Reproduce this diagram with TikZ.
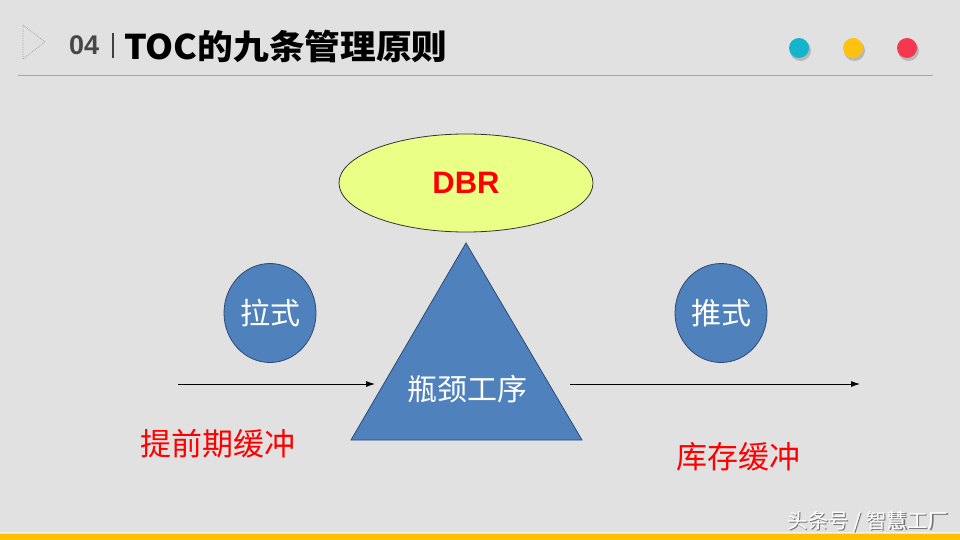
\documentclass[tikz,border=0pt]{standalone}
\usepackage{fontspec}
\setmainfont{Liberation Sans}
\newfontfamily\cjk{Noto Sans CJK SC}
\usetikzlibrary{arrows.meta}
\definecolor{bgc}{HTML}{E1E1E1}
\definecolor{blueshape}{HTML}{4F81BD}
\definecolor{blueedge}{HTML}{2A4A78}
\definecolor{dbrfill}{HTML}{E9FF85}
\definecolor{dotcyan}{HTML}{14B4CC}
\definecolor{dotyellow}{HTML}{FFC20E}
\definecolor{dotred}{HTML}{F5384F}
\definecolor{barline}{HTML}{A6A6A6}
\definecolor{footbar}{HTML}{FFC000}
\tikzset{
  bluecircle/.style={ellipse, fill=blueshape, draw=blueedge, line width=0.8pt, text=white, font=\cjk\fontsize{30}{30}\selectfont, minimum width=92pt, minimum height=99pt, inner sep=0pt},
  redlabel/.style={text=red, font=\cjk\fontsize{31}{31}\selectfont, inner sep=0pt},
  flowarrow/.style={-{Latex[length=9pt,width=6pt]}, line width=0.8pt, draw=black},
  dotshadow/.style={fill=black, opacity=0.18},
}
\usetikzlibrary{shapes.geometric}
\begin{document}
\begin{tikzpicture}[x=1pt,y=-1pt]
\useasboundingbox (0,0) rectangle (960,540);
\fill[bgc] (0,0) rectangle (960,540);
% header
\draw[gray!70, line width=0.8pt, densely dotted] (23,25) -- (45,42) -- (23,59) -- cycle;
\node[anchor=west, inner sep=0pt, text=black!72, font=\bfseries\fontsize{27}{27}\selectfont] (num) at (69,45) {04};
\draw[black!75, line width=1.2pt] (113,33) -- (113,58);
\node[anchor=west, inner sep=0pt, xscale=1.05, font=\cjk\bfseries\fontsize{34}{34}\selectfont] (title) at (124,46) {TOC的九条管理原则};
\draw[barline, line width=1pt] (18,75.5) -- (933,75.5);
% dots
\foreach \n/\x/\c in {dc/799/dotcyan, dy/853/dotyellow, dr/907/dotred}{
  \fill[dotshadow] (\x+1.5,50.5) circle (10.5);
  \node[circle, fill=\c, minimum size=20pt, inner sep=0pt] (\n) at (\x,48) {};
}
% footer
\fill[footbar] (0,534) rectangle (960,540);
\draw[white!90!gray, line width=1pt] (0,532.5) -- (960,532.5);
\node[anchor=east, inner sep=0pt, text=black!55, font=\cjk\fontsize{20.5}{20.5}\selectfont] at (949.7,522.7) {头条号 / 智慧工厂};
\node[anchor=east, inner sep=0pt, text=white, font=\cjk\fontsize{20.5}{20.5}\selectfont] (wm) at (948.5,521.5) {头条号 / 智慧工厂};
% DBR ellipse
\node[ellipse, fill=dbrfill, draw=black!80, line width=0.8pt, minimum width=254pt, minimum height=98pt, inner sep=0pt, text=red, font=\bfseries\fontsize{31}{31}\selectfont] (dbr) at (466,183) {DBR};
% triangle
\coordinate (tA) at (466,243);
\coordinate (tL) at (351,440);
\coordinate (tR) at (582,440);
\draw[fill=blueshape, draw=blueedge, line width=0.8pt] (tA) -- (tR) -- (tL) -- cycle;
\node[text=white, font=\cjk\fontsize{30}{30}\selectfont, inner sep=0pt] (neck) at (467,389) {瓶颈工序};
% circles
\node[bluecircle] (pull) at (270,313) {拉式};
\node[bluecircle] (push) at (721,313) {推式};
% arrows
\coordinate (a1) at (178,384);
\coordinate (a1e) at (375,384);
\coordinate (a2) at (570,384);
\coordinate (a2e) at (860,384);
\draw[flowarrow] (a1) -- (a1e);
\draw[flowarrow] (a2) -- (a2e);
% labels
\node[redlabel] (lead) at (218,444) {提前期缓冲};
\node[redlabel] (stock) at (738,457) {库存缓冲};
\end{tikzpicture}
\end{document}
